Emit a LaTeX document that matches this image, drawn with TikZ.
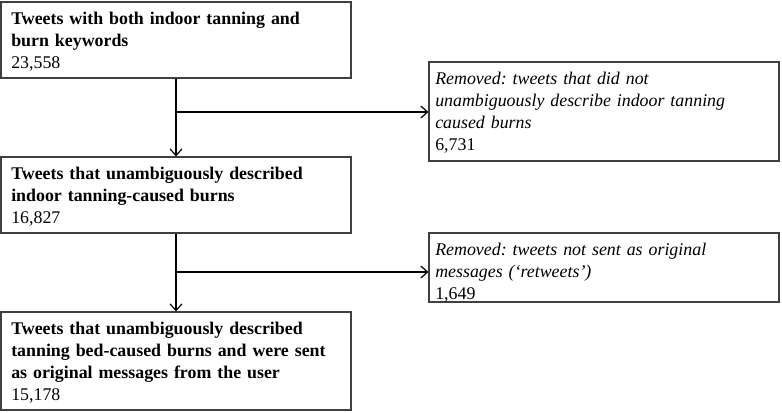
\documentclass[tikz,border=0pt]{standalone}
\usepackage{fontspec}
\setmainfont{Liberation Serif}
\usetikzlibrary{arrows.meta}
\frenchspacing
\newcommand{\firstln}{\rule{0pt}{12pt}}
\begin{document}
\begin{tikzpicture}[x=0.75pt,y=-0.75pt,
  frame/.style={draw=black!75, line width=0.9pt, rectangle, minimum width=262.5pt, inner sep=0pt},
  txt/.style={anchor=north west, inner sep=0pt, align=left, text width=255pt, font=\fontsize{13.4pt}{16.5pt}\selectfont},
  conn/.style={line width=0.9pt, -{Straight Barb[length=5pt,width=9pt]}}]
\useasboundingbox (0,0) rectangle (782,412);
% boxes
\node[frame, minimum height=57pt] (b1) at (176,40) {};
\node[frame, minimum height=57pt] (b2) at (176,195) {};
\node[frame, minimum height=73.5pt] (b3) at (176,361) {};
\node[frame, minimum height=74.25pt] (r1) at (604,111.5) {};
\node[frame, minimum height=51.75pt] (r2) at (604,267.5) {};
% texts
\node[txt] (t1) at (11,8.5) {\firstln\textbf{Tweets with both indoor tanning and}\\\textbf{burn keywords}\\23,558};
\node[txt] (t2) at (11,163.5) {\firstln\textbf{Tweets that unambiguously described}\\\textbf{indoor tanning-caused burns}\\16,827};
\node[txt] (t3) at (11,318.5) {\firstln\textbf{Tweets that unambiguously described}\\\textbf{tanning bed-caused burns and were sent}\\\textbf{as original messages from the user}\\15,178};
\node[txt] (t4) at (435,68.5) {\firstln\textit{Removed: tweets that did not}\\\textit{unambiguously describe indoor tanning}\\\textit{caused burns}\\6,731};
\node[txt] (t5) at (435,239.5) {\firstln\textit{Removed: tweets not sent as original}\\\textit{messages (‘retweets’)}\\1,649};
% connectors
\coordinate (j1) at (b1.south |- 0,112);
\coordinate (j2) at (b2.south |- 0,272);
\draw[conn] (b1.south) -- (b2.north);
\draw[conn] (j1) -- (r1.west |- j1);
\draw[conn] (b2.south) -- (b3.north);
\draw[conn] (j2) -- (r2.west |- j2);
\end{tikzpicture}
\end{document}
